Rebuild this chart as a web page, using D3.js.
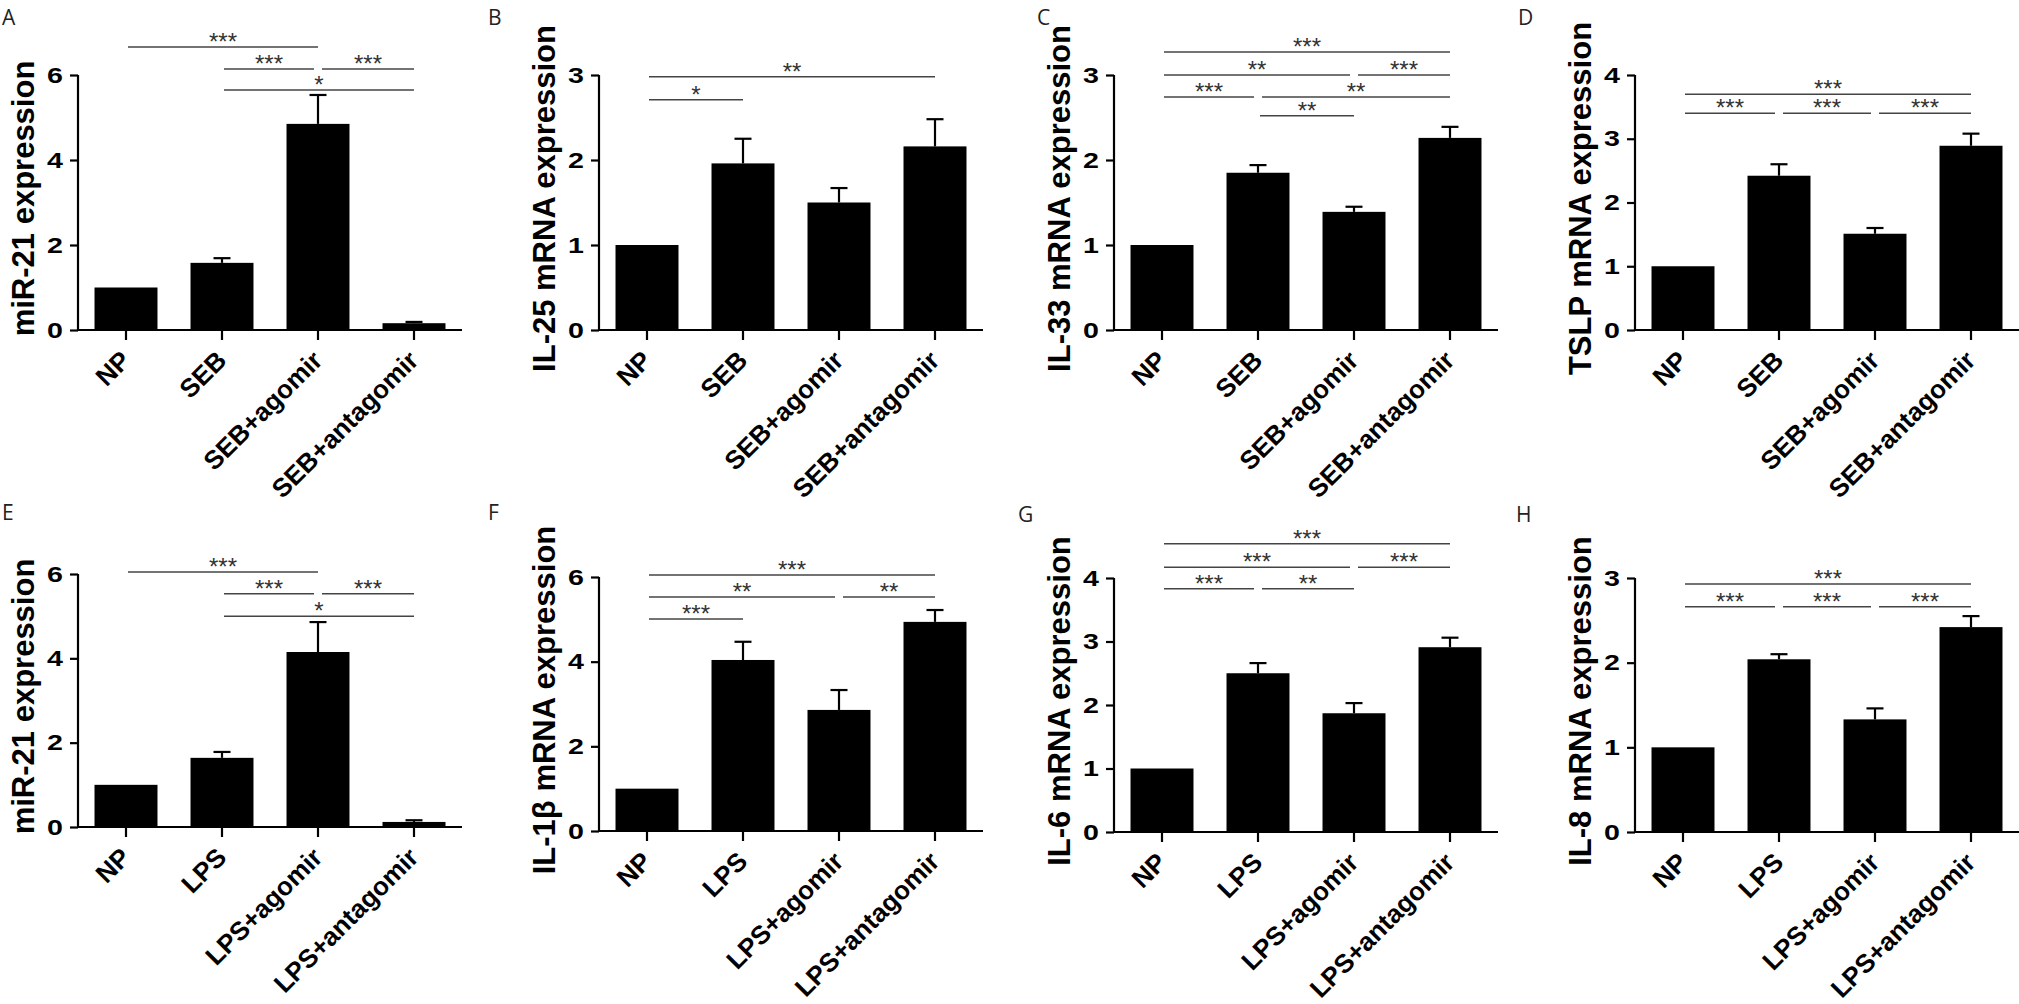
<!DOCTYPE html>
<html lang="en">
  <head>
    <meta charset="UTF-8" />
    <title>miR-21 and cytokine expression</title>
    <script src="https://d3js.org/d3.v7.min.js"></script>
    <style>
      body {
        margin: 0;
        background: #fff;
      }
      .axis path,
      .axis line {
        stroke: #000;
        stroke-width: 2.2px;
      }
      .ytick text {
        font: bold 22px "Liberation Sans", Arial, sans-serif;
        fill: #000;
        transform-box: fill-box;
        transform-origin: 100% 50%;
        transform: scaleX(1.3);
      }
      .xlabel {
        font: bold 26px "Liberation Sans", Arial, sans-serif;
        fill: #000;
      }
      .ytitle {
        font: bold 31px "Liberation Sans", Arial, sans-serif;
        fill: #000;
      }
      .stars {
        font: 24px "Liberation Sans", Arial, sans-serif;
        fill: #333;
      }
      .letter {
        font: 21px "Open Sans", sans-serif;
        fill: #222;
      }
    </style>
  </head>
  <body>
    <svg id="fig" width="2019" height="1004"></svg>
    <script>
      // groups on the x axis
      const groupsSEB = ["NP", "SEB", "SEB+agomir", "SEB+antagomir"];
      const groupsLPS = ["NP", "LPS", "LPS+agomir", "LPS+antagomir"];

      const panelLetters = ["A", "B", "C", "D", "E", "F", "G", "H"];
      const yTitles = [
        "miR-21 expression",
        "IL-25 mRNA expression",
        "IL-33 mRNA expression",
        "TSLP mRNA expression",
        "miR-21 expression",
        "IL-1β mRNA expression",
        "IL-6 mRNA expression",
        "IL-8 mRNA expression",
      ];

      // means
      const meanA = [1.0, 1.58, 4.85, 0.16];
      const meanB = [1.0, 1.96, 1.5, 2.16];
      const meanC = [1.0, 1.85, 1.39, 2.26];
      const meanD = [1.0, 2.42, 1.51, 2.89];
      const meanE = [1.0, 1.64, 4.15, 0.12];
      const meanF = [1.0, 4.04, 2.86, 4.94];
      const meanG = [1.0, 2.5, 1.87, 2.91];
      const meanH = [1.0, 2.04, 1.33, 2.42];

      // SEM (upper error bar)
      const semA = [0, 0.11, 0.68, 0.03];
      const semB = [0, 0.29, 0.17, 0.32];
      const semC = [0, 0.09, 0.06, 0.13];
      const semD = [0, 0.18, 0.09, 0.19];
      const semE = [0, 0.14, 0.71, 0.04];
      const semF = [0, 0.43, 0.47, 0.28];
      const semG = [0, 0.16, 0.16, 0.15];
      const semH = [0, 0.06, 0.13, 0.13];

      // y axis ticks
      const ticksA = [0, 2, 4, 6];
      const ticksB = [0, 1, 2, 3];
      const ticksC = [0, 1, 2, 3];
      const ticksD = [0, 1, 2, 3, 4];
      const ticksE = [0, 2, 4, 6];
      const ticksF = [0, 2, 4, 6];
      const ticksG = [0, 1, 2, 3, 4];
      const ticksH = [0, 1, 2, 3];

      // significance brackets: [from, to, height (data units), label]
      const sigA = [[0, 2, 6.66, "***"], [1, 2, 6.14, "***"], [2, 3, 6.14, "***"], [1, 3, 5.65, "*"]];
      const sigB = [[0, 3, 2.98, "**"], [0, 1, 2.71, "*"]];
      const sigC = [[0, 3, 3.27, "***"], [0, 2, 3.0, "**"], [2, 3, 3.0, "***"], [0, 1, 2.74, "***"], [1, 3, 2.74, "**"], [1, 2, 2.52, "**"]];
      const sigD = [[0, 3, 3.7, "***"], [0, 1, 3.4, "***"], [1, 2, 3.4, "***"], [2, 3, 3.4, "***"]];
      const sigE = [[0, 2, 6.05, "***"], [1, 2, 5.53, "***"], [2, 3, 5.53, "***"], [1, 3, 5.0, "*"]];
      const sigF = [[0, 3, 6.05, "***"], [0, 2, 5.53, "**"], [2, 3, 5.53, "**"], [0, 1, 5.01, "***"]];
      const sigG = [[0, 3, 4.54, "***"], [0, 2, 4.17, "***"], [2, 3, 4.17, "***"], [0, 1, 3.83, "***"], [1, 2, 3.83, "**"]];
      const sigH = [[0, 3, 2.93, "***"], [0, 1, 2.66, "***"], [1, 2, 2.66, "***"], [2, 3, 2.66, "***"]];

      const means = [meanA, meanB, meanC, meanD, meanE, meanF, meanG, meanH];
      const sems = [semA, semB, semC, semD, semE, semF, semG, semH];
      const ticks = [ticksA, ticksB, ticksC, ticksD, ticksE, ticksF, ticksG, ticksH];
      const sigs = [sigA, sigB, sigC, sigD, sigE, sigF, sigG, sigH];

      // layout
      const axisX = [78, 599, 1114, 1635];
      const plotW = 384;
      const letterPos = [[2, 25], [488, 25], [1037, 25], [1518, 25], [2, 520], [488, 520], [1018, 522], [1516, 522]];
      const yRanges = [[330, 75], [330, 75], [330, 75], [330, 75], [827, 574], [831, 577], [832, 578], [832, 578]];

      const svg = d3.select("#fig");

      function drawPanel(i) {
        const groups = i < 4 ? groupsSEB : groupsLPS;
        const x0 = axisX[i % 4];
        const [yb, yt] = yRanges[i];
        const tk = ticks[i];
        const g = svg.append("g");

        const x = d3
          .scaleBand()
          .domain(groups)
          .range([x0, x0 + plotW])
          .paddingInner(0.344)
          .paddingOuter(0.172);
        const y = d3.scaleLinear().domain([0, d3.max(tk)]).range([yb, yt]);

        const data = groups.map((k, j) => ({ k, m: means[i][j], e: sems[i][j] }));

        // bars
        g.selectAll("rect")
          .data(data)
          .join("rect")
          .attr("x", (d) => x(d.k))
          .attr("width", x.bandwidth())
          .attr("y", (d) => y(d.m))
          .attr("height", (d) => y(0) - y(d.m))
          .attr("fill", "#000");

        // error bars
        const eb = g.selectAll(".err").data(data.filter((d) => d.e > 0)).join("g").attr("class", "err");
        const cx = (d) => x(d.k) + x.bandwidth() / 2;
        eb.append("line")
          .attr("x1", cx)
          .attr("x2", cx)
          .attr("y1", (d) => y(d.m))
          .attr("y2", (d) => y(d.m + d.e))
          .attr("stroke", "#000")
          .attr("stroke-width", 2.2);
        eb.append("line")
          .attr("x1", (d) => cx(d) - 8.5)
          .attr("x2", (d) => cx(d) + 8.5)
          .attr("y1", (d) => y(d.m + d.e))
          .attr("y2", (d) => y(d.m + d.e))
          .attr("stroke", "#000")
          .attr("stroke-width", 2.2);

        // y axis
        g.append("g")
          .attr("class", "axis ytick")
          .attr("transform", `translate(${x0},0)`)
          .call(
            d3.axisLeft(y).tickValues(tk).tickFormat(d3.format("d")).tickSize(8).tickPadding(7).tickSizeOuter(0)
          )
          .call((a) => a.select(".domain").attr("d", `M0,${yb}V${yt}`));

        // x axis
        const xa = g
          .append("g")
          .attr("class", "axis")
          .attr("transform", `translate(0,${yb})`)
          .call(d3.axisBottom(x).tickSize(10).tickSizeOuter(0));
        xa.select(".domain").attr("d", `M${x0},0H${x0 + plotW}`);
        xa.selectAll("text").remove();

        g.selectAll(".xlabel")
          .data(groups)
          .join("text")
          .attr("class", "xlabel")
          .attr("text-anchor", "end")
          .attr("transform", (d) => `translate(${x(d) + x.bandwidth() / 2 + 6},${yb + 32}) rotate(-45)`)
          .text((d) => d);

        // y title
        g.append("text")
          .attr("class", "ytitle")
          .attr("text-anchor", "middle")
          .attr("transform", `translate(${x0 - 44},${(yb + yt) / 2 - 4}) rotate(-90)`)
          .text(yTitles[i]);

        // significance brackets
        const sg = sigs[i];
        const xc = (j) => x(groups[j]) + x.bandwidth() / 2;
        sg.forEach(([a, b, h, lab]) => {
          const leftShared = sg.some((s) => s[2] === h && s[1] === a);
          const rightShared = sg.some((s) => s[2] === h && s[0] === b);
          const xs = xc(a) + (leftShared ? 4 : 2);
          const xe = xc(b) - (rightShared ? 4 : 0);
          g.append("line")
            .attr("x1", xs)
            .attr("x2", xe)
            .attr("y1", y(h))
            .attr("y2", y(h))
            .attr("stroke", "#444")
            .attr("stroke-width", 1.5);
          g.append("text")
            .attr("class", "stars")
            .attr("text-anchor", "middle")
            .attr("x", (xs + xe) / 2)
            .attr("y", y(h) + 3)
            .text(lab);
        });

        // panel letter
        svg.append("text")
          .attr("class", "letter")
          .attr("x", letterPos[i][0])
          .attr("y", letterPos[i][1])
          .text(panelLetters[i]);
      }

      d3.range(8).forEach(drawPanel);
    </script>
  </body>
</html>
